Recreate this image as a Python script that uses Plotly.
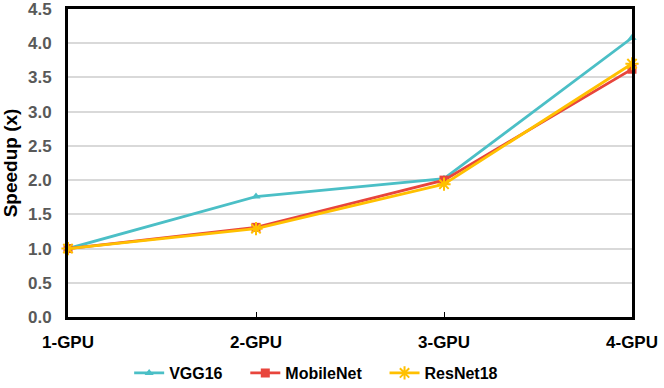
import plotly.graph_objects as go

categories = ["1-GPU", "2-GPU", "3-GPU", "4-GPU"]
vgg16 = [1.0, 1.76, 2.02, 4.08]
mobilenet = [1.0, 1.31, 2.0, 3.62]
resnet18 = [1.0, 1.29, 1.94, 3.70]
y_ticks = [0.0, 0.5, 1.0, 1.5, 2.0, 2.5, 3.0, 3.5, 4.0, 4.5]
series_names = ["VGG16", "MobileNet", "ResNet18"]

FONT = "Liberation Sans, Arial, sans-serif"
PAD = "\u00a0" * 4
xpos = list(range(len(categories)))
fig = go.Figure()
fig.add_trace(go.Scatter(x=xpos, y=vgg16, name="<b>%s</b>%s" % (series_names[0], PAD), mode="lines+markers",
                         line=dict(color="#4BBFC6", width=2.8),
                         marker=dict(symbol="triangle-up", size=8, color="#4BBFC6"),
                         cliponaxis=False))
fig.add_trace(go.Scatter(x=xpos, y=mobilenet, name="<b>%s</b>%s" % (series_names[1], PAD), mode="lines+markers",
                         line=dict(color="#E8453C", width=2.8),
                         marker=dict(symbol="square", size=9, color="#E8453C"),
                         cliponaxis=False))
fig.add_trace(go.Scatter(x=xpos, y=resnet18, name="<b>%s</b>" % series_names[2], mode="lines+markers",
                         line=dict(color="#FFC000", width=2.8),
                         marker=dict(symbol="asterisk-open", size=11, color="#FFC000",
                                     line=dict(color="#FFC000", width=2)),
                         cliponaxis=False))

fig.update_layout(
    width=664, height=388,
    margin=dict(l=68, r=32, t=9, b=71, autoexpand=False),
    plot_bgcolor="white", paper_bgcolor="white",
    font=dict(family=FONT),
    showlegend=True,
    legend=dict(orientation="h", x=0.44, xanchor="center", y=-0.182, yanchor="middle",
                font=dict(size=16, color="black", family=FONT),
                traceorder="normal", itemwidth=30),
    xaxis=dict(range=[0, 3], tickvals=xpos, ticktext=["<b>%s</b>" % c for c in categories],
               showgrid=False, zeroline=False, showline=True, linecolor="black", linewidth=3,
               mirror=True, ticks="inside", ticklen=5, tickcolor="black", tickwidth=1,
               ticklabelstandoff=8, ticklabeloverflow="allow",
               tickfont=dict(size=17, color="black", family=FONT)),
    yaxis=dict(range=[0, 4.5], tickvals=y_ticks, ticktext=["<b>%.1f</b>" % v for v in y_ticks],
               showgrid=True, gridcolor="#D9D9D9", gridwidth=1.5, zeroline=False,
               showline=True, linecolor="black", linewidth=3, mirror=True,
               ticks="", ticklabelstandoff=10, ticklabeloverflow="allow",
               tickfont=dict(size=17, color="#595959", family=FONT),
               title=dict(text="<b>Speedup (x)</b>", font=dict(size=19, color="black", family=FONT),
                          standoff=6)),
)

fig.write_html("out.html", config={"displayModeBar": False},
               post_script="document.body.style.margin='0';document.body.style.padding='0';")
